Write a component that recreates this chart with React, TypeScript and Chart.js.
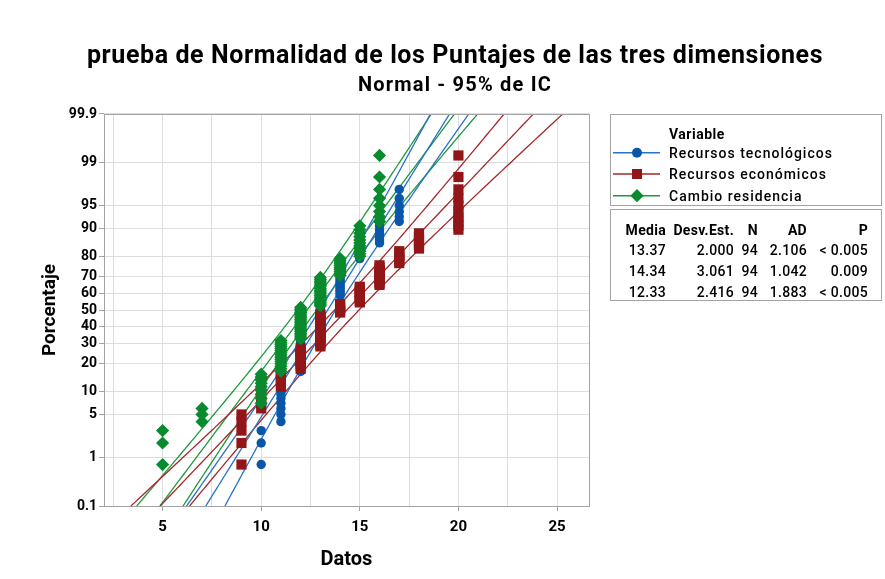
import React, { useEffect, useRef } from "react";
import { Chart, registerables } from "chart.js";

Chart.register(...registerables);

// ---------------- data ----------------
const SERIES_NAMES = ["Recursos tecnológicos", "Recursos económicos", "Cambio residencia"];
// observed scores and how many respondents have each score
const TEC_VALUES = [10, 11, 12, 13, 14, 15, 16, 17, 20];
const TEC_COUNTS = [3, 12, 19, 21, 19, 6, 6, 6, 2];
const ECO_VALUES = [9, 10, 11, 12, 13, 14, 15, 16, 17, 18, 20];
const ECO_COUNTS = [5, 5, 6, 10, 19, 6, 10, 11, 6, 6, 10];
const RES_VALUES = [5, 7, 10, 11, 12, 13, 14, 15, 16];
const RES_COUNTS = [3, 3, 9, 15, 19, 17, 9, 11, 8];
// summary table
const MEDIA = [13.37, 14.34, 12.33];
const DESV = [2.0, 3.061, 2.416];
const NVAL = [94, 94, 94];
const AD = [2.106, 1.042, 1.883];
const PVAL = ["< 0.005", "0.009", "< 0.005"];
// axes
const PCT_TICKS = [0.1, 1, 5, 10, 20, 30, 40, 50, 60, 70, 80, 90, 95, 99, 99.9];
const X_GRID = [2.5, 5, 7.5, 10, 12.5, 15, 17.5, 20, 22.5, 25];
const X_LABELED = [5, 10, 15, 20, 25];
const X_MIN = 2.03;
const X_MAX = 26.62;

// ---------------- styles ----------------
const FONT = "Roboto, 'Noto Sans', Arial, sans-serif";
const MARK_COLORS = ["#0a56a8", "#921618", "#0a8a2e"];
const LINE_COLORS = ["#2a72c8", "#a3282a", "#1c9a3c"];
const GRID = "#dedede";
const FRAME = "#a3a3a3";

function probit(p: number): number {
  const a = [-3.969683028665376e1, 2.209460984245205e2, -2.759285104469687e2, 1.38357751867269e2, -3.066479806614716e1, 2.506628277459239];
  const b = [-5.447609879822406e1, 1.615858368580409e2, -1.556989798598866e2, 6.680131188771972e1, -1.328068155288572e1];
  const c = [-7.784894002430293e-3, -3.223964580411365e-1, -2.400758277161838, -2.549732539343734, 4.374664141464968, 2.938163982698783];
  const d = [7.784695709041462e-3, 3.224671290700398e-1, 2.445134137142996, 3.754408661907416];
  const pl = 0.02425;
  if (p < pl) {
    const q = Math.sqrt(-2 * Math.log(p));
    return (((((c[0] * q + c[1]) * q + c[2]) * q + c[3]) * q + c[4]) * q + c[5]) / ((((d[0] * q + d[1]) * q + d[2]) * q + d[3]) * q + 1);
  }
  if (p <= 1 - pl) {
    const q = p - 0.5;
    const r = q * q;
    return ((((((a[0] * r + a[1]) * r + a[2]) * r + a[3]) * r + a[4]) * r + a[5]) * q) / (((((b[0] * r + b[1]) * r + b[2]) * r + b[3]) * r + b[4]) * r + 1);
  }
  const q = Math.sqrt(-2 * Math.log(1 - p));
  return -(((((c[0] * q + c[1]) * q + c[2]) * q + c[3]) * q + c[4]) * q + c[5]) / ((((d[0] * q + d[1]) * q + d[2]) * q + d[3]) * q + 1);
}

const Z_MIN = probit(0.001);
const Z_MAX = probit(0.999);

// median-rank plotting positions
function plotPoints(values: number[], counts: number[]) {
  const n = counts.reduce((s, v) => s + v, 0);
  const pts: { x: number; y: number }[] = [];
  let i = 0;
  values.forEach((v, k) => {
    for (let c = 0; c < counts[k]; c++) {
      i++;
      pts.push({ x: v, y: probit((i - 0.3) / (n + 0.4)) });
    }
  });
  return pts;
}

// fitted normal line with 95% confidence band
function fitCurves(mean: number, sd: number, n: number) {
  const center: { x: number; y: number }[] = [];
  const lower: { x: number; y: number }[] = [];
  const upper: { x: number; y: number }[] = [];
  const steps = 90;
  for (let s = 0; s <= steps; s++) {
    const z = Z_MIN + ((Z_MAX - Z_MIN) * s) / steps;
    const half = 1.96 * sd * Math.sqrt(1 / n + (z * z) / (2 * n));
    center.push({ x: mean + sd * z, y: z });
    lower.push({ x: mean + sd * z - half, y: z });
    upper.push({ x: mean + sd * z + half, y: z });
  }
  return [center, lower, upper];
}

const framePlugin = {
  id: "frame",
  afterDatasetsDraw(chart: any) {
    const { ctx, chartArea } = chart;
    ctx.save();
    ctx.strokeStyle = FRAME;
    ctx.lineWidth = 1;
    ctx.strokeRect(Math.round(chartArea.left) + 0.5, Math.round(chartArea.top) + 0.5, Math.round(chartArea.right - chartArea.left), Math.round(chartArea.bottom - chartArea.top));
    ctx.restore();
  },
};

export default function App() {
  const ref = useRef<HTMLCanvasElement>(null);

  useEffect(() => {
    const canvas = ref.current;
    if (!canvas) return;
    const allValues = [TEC_VALUES, ECO_VALUES, RES_VALUES];
    const allCounts = [TEC_COUNTS, ECO_COUNTS, RES_COUNTS];
    const styles = ["circle", "rect", "rectRot"];
    const radii = [4.7, 7.2, 6.6];
    const datasets: any[] = [];
    for (let k = 0; k < 3; k++) {
      const curves = fitCurves(MEDIA[k], DESV[k], NVAL[k]);
      curves.forEach((data) => {
        datasets.push({
          label: SERIES_NAMES[k] + " ajuste",
          data,
          showLine: true,
          pointRadius: 0,
          borderColor: LINE_COLORS[k],
          borderWidth: 1.3,
          fill: false,
          order: 10,
        });
      });
    }
    for (let k = 0; k < 3; k++) {
      datasets.push({
        label: SERIES_NAMES[k],
        data: plotPoints(allValues[k], allCounts[k]),
        pointStyle: styles[k],
        pointRadius: radii[k],
        backgroundColor: MARK_COLORS[k],
        borderColor: MARK_COLORS[k],
        borderWidth: 0,
        showLine: false,
        order: 3 - k,
      });
    }

    const chart = new Chart(canvas, {
      type: "scatter",
      data: { datasets },
      plugins: [framePlugin],
      options: {
        responsive: false,
        animation: false,
        events: [],
        layout: { padding: { top: 114, right: 296, left: 0, bottom: 0 } },
        plugins: { legend: { display: false }, tooltip: { enabled: false } },
        scales: {
          x: {
            type: "linear",
            min: X_MIN,
            max: X_MAX,
            afterBuildTicks: (s: any) => {
              s.ticks = X_GRID.map((v) => ({ value: v }));
            },
            afterFit: (s: any) => {
              s.height = 73;
            },
            ticks: {
              autoSkip: false,
              maxRotation: 0,
              padding: 7,
              color: "#000",
              font: { family: FONT, size: 15, weight: "bold" },
              callback: (v: any) => (X_LABELED.includes(Number(v)) ? String(v) : ""),
            },
            grid: {
              color: GRID,
              tickLength: 5,
              tickColor: (ctx: any) => (ctx.tick && X_LABELED.includes(ctx.tick.value) ? FRAME : "rgba(0,0,0,0)"),
            },
            border: { display: false },
            title: {
              display: true,
              text: "Datos",
              color: "#000",
              font: { family: FONT, size: 20, weight: "bold" },
              padding: { top: 0, bottom: 7 },
            },
          },
          y: {
            type: "linear",
            min: Z_MIN,
            max: Z_MAX,
            afterBuildTicks: (s: any) => {
              s.ticks = PCT_TICKS.map((p) => ({ value: probit(p / 100) }));
            },
            afterFit: (s: any) => {
              s.width = 104;
            },
            ticks: {
              autoSkip: false,
              padding: 2,
              color: "#000",
              font: { family: FONT, size: 14, weight: "bold" },
              callback: (_v: any, i: number) => String(PCT_TICKS[i]),
            },
            grid: { color: GRID, tickLength: 5, tickColor: FRAME },
            border: { display: false },
            title: {
              display: true,
              text: "Porcentaje",
              color: "#000",
              font: { family: FONT, size: 19, weight: "bold" },
              padding: { top: 39, bottom: 0 },
            },
          },
        },
      },
    } as any);
    return () => chart.destroy();
  }, []);

  const legendRows = [152.7, 174, 195.7];
  const tableRows = [250, 271, 292];
  const cols = [666, 734, 758, 807, 868];
  const header = ["Media", "Desv.Est.", "N", "AD", "P"];
  const cell = (text: string, right: number, cy: number, bold: boolean, key: string) => (
    <div
      key={key}
      style={{
        position: "absolute",
        right: 885 - right,
        top: cy - 9,
        lineHeight: "18px",
        fontSize: 14,
        fontWeight: bold ? 700 : 500,
        letterSpacing: 0.3,
        whiteSpace: "nowrap",
        color: "#000",
      }}
    >
      {text}
    </div>
  );

  return (
    <div style={{ position: "absolute", left: 0, top: 0, width: 885, height: 579, background: "#fff", fontFamily: FONT, overflow: "hidden" }}>
      <canvas ref={ref} width={885} height={579} style={{ position: "absolute", left: 0, top: 0 }} />
      <div style={{ position: "absolute", left: 455, top: 40, transform: "translateX(-50%)", whiteSpace: "nowrap", fontSize: 25, lineHeight: "30px", letterSpacing: 0.6, fontWeight: 700, color: "#000" }}>
        prueba de Normalidad de los Puntajes de las tres dimensiones
      </div>
      <div style={{ position: "absolute", left: 455, top: 72, transform: "translateX(-50%)", whiteSpace: "nowrap", fontSize: 20, lineHeight: "24px", letterSpacing: 1.2, fontWeight: 700, color: "#000" }}>
        Normal - 95% de IC
      </div>

      {/* legend */}
      <div style={{ position: "absolute", left: 610, top: 114, width: 272, height: 92, boxSizing: "border-box", border: `1px solid ${FRAME}` }} />
      <div style={{ position: "absolute", left: 669, top: 125, fontSize: 14, lineHeight: "18px", letterSpacing: 0.5, fontWeight: 700, color: "#000" }}>Variable</div>
      <svg style={{ position: "absolute", left: 610, top: 114 }} width={60} height={92}>
        {legendRows.map((cy, k) => {
          const y = cy - 114;
          return (
            <g key={k}>
              <line x1={3} x2={50} y1={y} y2={y} stroke={LINE_COLORS[k]} strokeWidth={1.5} />
              {k === 0 && <circle cx={27} cy={y} r={5} fill={MARK_COLORS[0]} />}
              {k === 1 && <rect x={22} y={y - 5} width={10} height={10} fill={MARK_COLORS[1]} />}
              {k === 2 && <polygon points={`${27 - 6.6},${y} ${27},${y - 6.6} ${27 + 6.6},${y} ${27},${y + 6.6}`} fill={MARK_COLORS[2]} />}
            </g>
          );
        })}
      </svg>
      {SERIES_NAMES.map((name, k) => (
        <div key={name} style={{ position: "absolute", left: 669, top: legendRows[k] - 9, fontSize: 14, lineHeight: "18px", letterSpacing: 1, fontWeight: 500, color: "#000", whiteSpace: "nowrap" }}>
          {name}
        </div>
      ))}

      {/* statistics table */}
      <div style={{ position: "absolute", left: 610, top: 209, width: 272, height: 92, boxSizing: "border-box", border: `1px solid ${FRAME}` }} />
      {header.map((h, j) => cell(h, cols[j], 230, true, "h" + j))}
      {MEDIA.map((m, k) => [
        cell(m.toFixed(2), cols[0], tableRows[k], false, "m" + k),
        cell(DESV[k].toFixed(3), cols[1], tableRows[k], false, "d" + k),
        cell(String(NVAL[k]), cols[2], tableRows[k], false, "n" + k),
        cell(AD[k].toFixed(3), cols[3], tableRows[k], false, "a" + k),
        cell(PVAL[k], cols[4], tableRows[k], false, "p" + k),
      ])}
    </div>
  );
}
